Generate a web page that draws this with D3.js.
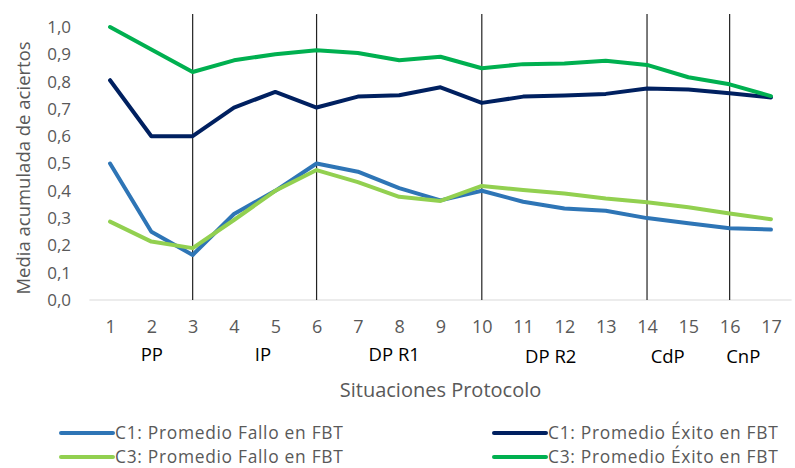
<!DOCTYPE html>
<html>
<head>
<meta charset="utf-8">
<script src="https://cdn.jsdelivr.net/npm/d3@7/dist/d3.min.js"></script>
<style>
  html, body { margin: 0; padding: 0; background: #fff; }
  svg { display: block; }
</style>
</head>
<body>
<svg id="chart" width="795" height="468"></svg>
<script>
// Situations of the protocol (x axis)
const situaciones = [1, 2, 3, 4, 5, 6, 7, 8, 9, 10, 11, 12, 13, 14, 15, 16, 17];

// Cumulative mean of correct answers per group
const c1Fallo = [0.50, 0.25, 0.165, 0.315, 0.40, 0.50, 0.47, 0.41, 0.365, 0.40, 0.36, 0.335, 0.327, 0.30, 0.281, 0.263, 0.258];
const c1Exito = [0.805, 0.60, 0.60, 0.705, 0.762, 0.705, 0.745, 0.75, 0.779, 0.722, 0.745, 0.749, 0.755, 0.775, 0.771, 0.757, 0.742];
const c3Fallo = [0.287, 0.214, 0.19, 0.293, 0.40, 0.476, 0.432, 0.378, 0.363, 0.418, 0.403, 0.39, 0.372, 0.358, 0.34, 0.317, 0.296];
const c3Exito = [1.00, 0.918, 0.835, 0.878, 0.90, 0.915, 0.905, 0.878, 0.891, 0.849, 0.864, 0.866, 0.876, 0.861, 0.816, 0.79, 0.747];

// Phase boundaries and phase names
const fronteras = [3, 6, 10, 14, 16];
const fases = ["PP", "IP", "DP R1", "DP R2", "CdP", "CnP"];
const fasePos = [2.01, 4.7, 7.88, 11.67, 14.5, 16.33];

const yTicks = [0, 0.1, 0.2, 0.3, 0.4, 0.5, 0.6, 0.7, 0.8, 0.9, 1.0];

const series = [
  { name: "C1: Promedio Fallo en FBT", values: c1Fallo, color: "#2E75B6" },
  { name: "C1: Promedio Éxito en FBT", values: c1Exito, color: "#002060" },
  { name: "C3: Promedio Fallo en FBT", values: c3Fallo, color: "#92D050" },
  { name: "C3: Promedio Éxito en FBT", values: c3Exito, color: "#00B050" }
];

const svg = d3.select("#chart");
const sans = "'Open Sans', 'DejaVu Sans', sans-serif";
const grey = "#595959";

const x = d3.scaleLinear().domain([0.5, 17.5]).range([89.4, 791.6]);
const y = d3.scaleLinear().domain([0, 1]).range([300, 27]);

// Baseline
svg.append("line")
  .attr("x1", x(0.5)).attr("x2", x(17.5))
  .attr("y1", y(0)).attr("y2", y(0))
  .attr("stroke", "#d9d9d9").attr("stroke-width", 1);

// Y axis (labels only)
const yAxis = d3.axisLeft(y).tickValues(yTicks).tickSize(0).tickPadding(0)
  .tickFormat(d => d3.format(".1f")(d).replace(".", ","));
const gy = svg.append("g").attr("transform", "translate(71,0)").call(yAxis);
gy.select(".domain").remove();
gy.selectAll("text").attr("font-family", sans).attr("font-size", 17).attr("fill", grey);

// X axis (labels only)
const xAxis = d3.axisBottom(x).tickValues(situaciones).tickSize(0).tickPadding(0)
  .tickFormat(d3.format("d"));
const gx = svg.append("g").attr("transform", "translate(0,320)").call(xAxis);
gx.select(".domain").remove();
gx.selectAll("text").attr("font-family", sans).attr("font-size", 18).attr("fill", grey);

// Phase separators
svg.append("g").selectAll("line").data(fronteras).join("line")
  .attr("x1", d => x(d)).attr("x2", d => x(d))
  .attr("y1", 14).attr("y2", y(0))
  .attr("stroke", "#222").attr("stroke-width", 1.2);

// Phase names
svg.append("g").selectAll("text").data(fases).join("text")
  .attr("x", (d, i) => x(fasePos[i]))
  .attr("y", (d, i) => i >= 3 ? 363 : 361)
  .attr("text-anchor", "middle")
  .attr("font-family", sans).attr("font-size", 18.5).attr("fill", "#000")
  .text(d => d);

// Axis titles
svg.append("text")
  .attr("x", x(9)).attr("y", 397)
  .attr("text-anchor", "middle")
  .attr("font-family", sans).attr("font-size", 20).attr("fill", grey)
  .text("Situaciones Protocolo");

svg.append("text")
  .attr("transform", "translate(30,168) rotate(-90)")
  .attr("text-anchor", "middle")
  .attr("font-family", sans).attr("font-size", 18.5).attr("fill", grey)
  .text("Media acumulada de aciertos");

// Lines
const line = d3.line()
  .x((d, i) => x(situaciones[i]))
  .y(d => y(d));

svg.append("g").selectAll("path").data(series).join("path")
  .attr("d", s => line(s.values))
  .attr("fill", "none")
  .attr("stroke", s => s.color)
  .attr("stroke-width", 4)
  .attr("stroke-linejoin", "round")
  .attr("stroke-linecap", "round");

// Legend
const legPos = [[61, 433], [494, 433], [61, 457], [494, 457]];
const leg = svg.append("g").selectAll("g").data(series).join("g")
  .attr("transform", (d, i) => `translate(${legPos[i][0]},${legPos[i][1]})`);
leg.append("line")
  .attr("x1", 0).attr("x2", 52).attr("y1", 0).attr("y2", 0)
  .attr("stroke", d => d.color).attr("stroke-width", 4).attr("stroke-linecap", "round");
leg.append("text")
  .attr("x", 54).attr("y", 5.8)
  .attr("font-family", sans).attr("font-size", 17.4).attr("letter-spacing", 0.7)
  .attr("fill", grey)
  .text(d => d.name);
</script>
</body>
</html>
